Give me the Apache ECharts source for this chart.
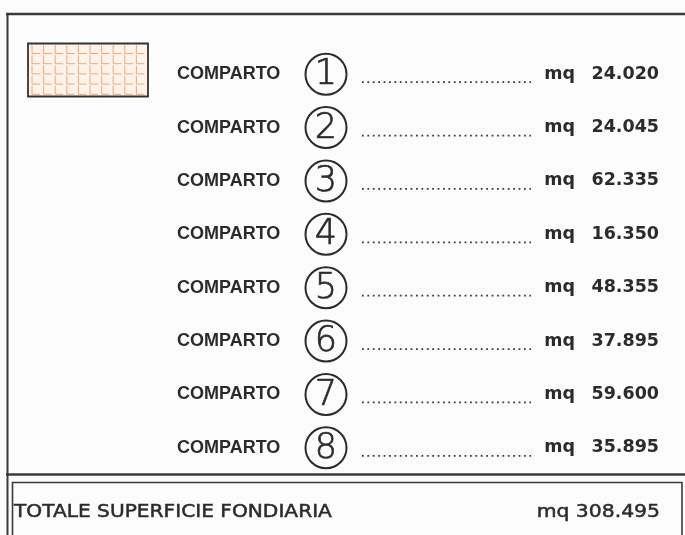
<!DOCTYPE html>
<html>
<head>
<meta charset="utf-8">
<script src="https://cdn.jsdelivr.net/npm/echarts@6/dist/echarts.min.js"></script>
<style>html,body{margin:0;padding:0;background:#fcfcfc}#c{width:685px;height:535px}</style>
</head>
<body>
<div id="c"></div>
<script>
// ---- data ----
const rowLabel = 'COMPARTO';
const compartments = ['1', '2', '3', '4', '5', '6', '7', '8'];
const areas = [24020, 24045, 62335, 16350, 48355, 37895, 59600, 35895];
const unit = 'mq';
const totalLabel = 'TOTALE SUPERFICIE FONDIARIA';
const totalValue = 308495;

function fmt(v) {
  return String(v).replace(/\B(?=(\d{3})+(?!\d))/g, '.');
}

const INK = '#2b2b2b';
const chart = echarts.init(document.getElementById('c'), null, {renderer: 'canvas'});

// swatch pattern (decoration)
const swatch = [];
swatch.push({type: 'rect', shape: {x: 28, y: 43.5, width: 120, height: 53}, style: {fill: '#fdf3ea', stroke: 'none'}, z: 1});
for (let r = 0; r < 5; r++) {
  for (let c = 0; c < 11; c++) {
    const x0 = 32 + c * 11.6, y0 = 45 + r * 10.2;
    if (x0 > 146) continue;
    swatch.push({type: 'polyline', shape: {points: [[x0, y0], [x0, y0 + 8.5], [Math.min(x0 + 8, 147), y0 + 8.5]]},
      style: {stroke: '#eda878', lineWidth: 1, fill: null}, z: 2});
  }
}
swatch.push({type: 'rect', shape: {x: 28, y: 43.5, width: 120, height: 53}, style: {fill: 'none', stroke: '#333', lineWidth: 1.8}, z: 3});

const option = {
  backgroundColor: '#fcfcfc',
  animation: false,
  grid: {left: 0, right: 0, top: 47.5, height: 427},
  xAxis: {type: 'value', min: 0, max: 685, show: false},
  yAxis: {type: 'category', data: compartments, inverse: true, show: false},
  series: [{
    type: 'custom',
    data: areas.map((v, i) => [i, v]),
    encode: {x: 1, y: 0},
    renderItem: function (params, api) {
      const idx = api.value(0);
      const val = api.value(1);
      const P = (x) => api.coord([x, idx]);
      const cy = P(0)[1];
      const cx = P(326)[0];
      return {
        type: 'group',
        children: [
          {type: 'text', style: {text: rowLabel, x: P(177)[0], y: cy, fill: INK, font: 'bold 18px "Liberation Sans"', textAlign: 'left', verticalAlign: 'middle'}},
          {type: 'circle', shape: {cx: cx, cy: cy, r: 20.5}, style: {fill: 'none', stroke: INK, lineWidth: 2}},
          {type: 'text', style: {text: compartments[idx], x: cx, y: cy + 1, fill: INK, stroke: INK, lineWidth: 0.7, font: '200 35px "DejaVu Sans"', textAlign: 'center', verticalAlign: 'middle'}},
          {type: 'line', shape: {x1: P(362)[0], y1: cy + 8, x2: P(531)[0], y2: cy + 8}, style: {stroke: '#3a3a3a', lineWidth: 1.8, lineDash: [1.8, 3.6]}},
          {type: 'text', style: {text: unit, x: P(575)[0], y: cy, fill: INK, font: 'bold 17.5px "DejaVu Sans"', textAlign: 'right', verticalAlign: 'middle'}},
          {type: 'text', style: {text: fmt(val), x: P(659)[0], y: cy, fill: INK, font: 'bold 17.5px "DejaVu Sans"', textAlign: 'right', verticalAlign: 'middle'}}
        ]
      };
    }
  }],
  graphic: [
    // frame
    {type: 'line', shape: {x1: 6, y1: 14, x2: 690, y2: 14}, style: {stroke: '#3a3a3a', lineWidth: 2.5}},
    {type: 'line', shape: {x1: 7.5, y1: 13, x2: 7.5, y2: 540}, style: {stroke: '#3a3a3a', lineWidth: 2}},
    {type: 'line', shape: {x1: 6, y1: 474.5, x2: 690, y2: 474.5}, style: {stroke: '#3a3a3a', lineWidth: 2.5}},
    {type: 'rect', shape: {x: 12.5, y: 482.5, width: 669.5, height: 60}, style: {fill: 'none', stroke: '#3a3a3a', lineWidth: 1.6}},
    ...swatch,
    // total row
    {type: 'text', x: 14, y: 512, scaleX: 1.09, style: {text: totalLabel, x: 0, y: 0, fill: INK, stroke: INK, lineWidth: 0.5, font: '18.5px "DejaVu Sans"', textAlign: 'left', verticalAlign: 'middle'}},
    {type: 'text', x: 660, y: 512, scaleX: 1.1, style: {text: unit + ' ' + fmt(totalValue), x: 0, y: 0, fill: INK, stroke: INK, lineWidth: 0.5, font: '18.5px "DejaVu Sans"', textAlign: 'right', verticalAlign: 'middle'}}
  ]
};
chart.setOption(option);
</script>
</body>
</html>
